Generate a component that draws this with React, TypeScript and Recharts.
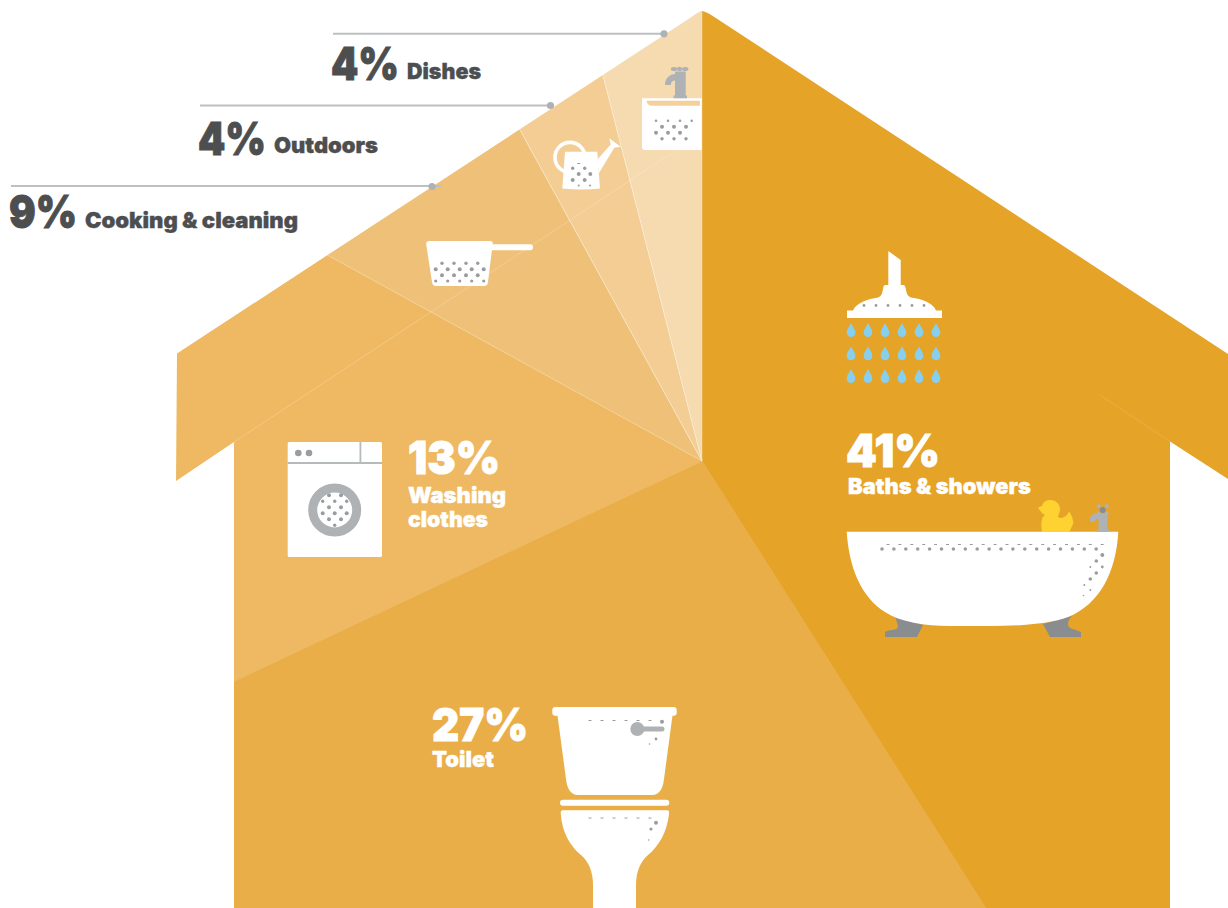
import React from "react";
import { PieChart, Pie, Cell } from "recharts";

// Share of household water use, by activity (percent)
const categories = ["Baths & showers", "Toilet", "Washing clothes", "Other", "Cooking & cleaning", "Outdoors", "Dishes"];
const values = [41, 27, 13, 2, 9, 4, 4];
const sliceColours = ["#E5A328", "#E9AE48", "#EEB962", "#EEB962", "#EFC077", "#F3CD93", "#F6DAB0"];
const sliceStrokes = ["#E5A328", "#E9AE48", "#EEB962", "#EEB962", "rgba(255,255,255,0.3)", "rgba(255,255,255,0.3)", "rgba(255,255,255,0.3)"];

const pieData = categories.map((name, i) => ({ name, value: values[i] }));

const WHITE = "#FFFFFF";
const DARK = "#4D4E50";
const GREY = "#AEB2B4";
const DOT = "#9A9DA0";
const FONT = "Inter, 'Noto Sans', sans-serif";

const HOUSE =
  "M690,18 Q698,12 702,11 Q706,11.5 712,15.5 L1228,354 V479 L1170,441.5 V908 H234 V442 L176,481 L177,353.5 Z";

// Bold label; the thin outline brings Inter Black up to the weight of the design
function Num({ x, y, w, fill, size = 46, children }: any) {
  return (
    <text
      x={x}
      y={y}
      fill={fill}
      stroke={fill}
      strokeWidth={size > 30 ? 1 : 0.35}
      fontFamily={FONT}
      fontWeight={900}
      fontSize={size}
      textLength={w}
      lengthAdjust="spacingAndGlyphs"
    >
      {children}
    </text>
  );
}

function Dots({ xs, y, r = 2 }: { xs: number[]; y: number; r?: number }) {
  return (
    <>
      {xs.map((x, i) => (
        <circle key={i} cx={x} cy={y} r={r} fill={DOT} />
      ))}
    </>
  );
}

function Dashes({ xs, y, w = 3 }: { xs: number[]; y: number; w?: number }) {
  return (
    <>
      {xs.map((x, i) => (
        <rect key={i} x={x - w / 2} y={y} width={w} height={1} fill={DOT} />
      ))}
    </>
  );
}

function Drop({ x, y }: { x: number; y: number }) {
  return (
    <path
      d={`M${x},${y - 7} C${x + 1.5},${y - 3.5} ${x + 4.3},${y - 1} ${x + 4.3},${y + 2.7} A4.3,4.3 0 0 1 ${x - 4.3},${y + 2.7} C${x - 4.3},${y - 1} ${x - 1.5},${y - 3.5} ${x},${y - 7} Z`}
      fill="#87CFEF"
    />
  );
}

function Shower() {
  const xs = [851, 868, 885, 902, 919, 936];
  return (
    <g>
      <path d="M888.3,251 L900.7,260 V286 H888.3 Z" fill={WHITE} />
      <path
        d="M847,318 H942 V310.5 H936 C933,303 922,299 911,297.5 C905,296 907,287 904,285 H884.5 C882,287 884,296 878,297.5 C868,299 856,303 853,310.5 H847 Z"
        fill={WHITE}
      />
      <Dots xs={[864, 876, 888, 900, 912, 924]} y={305.5} r={1.4} />
      {[330, 353.3, 376].map((y) => xs.map((x) => <Drop key={`${x}-${y}`} x={x} y={y} />))}
    </g>
  );
}

function Bathtub() {
  const rowXs = Array.from({ length: 19 }, (_, i) => 882 + i * 11.9);
  return (
    <g>
      <path d="M895,616 L923,625 L917,637 H885 V632 C890,629 898,631 898,626 Z" fill="#8A8D8F" />
      <path d="M1072,616 C1066,622 1067,628 1073,629 L1081,632 V637 H1050 L1043,624 Z" fill="#8A8D8F" />
      <path
        d="M846.7,531.7 H1118.3 C1116,572 1100,604 1068,617 C1050,624 1020,626 990,626 H950 C925,626 900,622 885,612 C860,596 849,566 846.7,531.7 Z"
        fill={WHITE}
      />
      <path
        d="M1042,532 C1041,526 1041,520 1043,517 L1045,515 C1042,514 1040,511 1038,507.5 C1040,507 1041,506 1042,506 C1043,502 1046,500 1050.5,500 C1056,500 1060,504 1060,509 C1060,513 1058,515 1058,517 C1061,519 1066,518 1069,511.5 C1072,515 1075,523 1072,526 C1071,529 1070,531 1069,532 Z"
        fill="#FDD231"
      />
      <path d="M1090,522 C1089,516 1093,513 1098,513 L1107.5,514 V529.5 H1109 V532 H1097 V529.5 H1098.5 V519 C1095,518.5 1095,520 1095,522 Z" fill={GREY} />
      {[[1098.7, 506.3], [1106.7, 506.3], [1098.7, 513.3], [1106.7, 513.3]].map(([x, y]) => (
        <circle key={`${x}-${y}`} cx={x} cy={y} r={2} fill={GREY} />
      ))}
      <circle cx={1102.7} cy={510} r={3} fill="#8A8D8F" />
      <Dots xs={rowXs} y={549} r={1.8} />
      <Dashes xs={rowXs.map((x) => x + 6)} y={544} />
      <Dots xs={[1102.3]} y={555} />
      <Dots xs={[1096.3]} y={561} r={1.8} />
      <Dots xs={[1102.3]} y={567} r={1.4} />
      <Dots xs={[1090.3]} y={567} r={1} />
      <Dots xs={[1096.3]} y={573} r={1.8} />
      <Dots xs={[1090.3]} y={579} r={1.8} />
      <Dots xs={[1084.3]} y={585} r={1} />
      <Dots xs={[1090.3]} y={590} r={1} />
      <Dots xs={[1083.5]} y={595.5} r={0.8} />
    </g>
  );
}

function ToiletIcon() {
  const xs = [590, 602, 614, 626, 638, 650];
  return (
    <g>
      <rect x={552.3} y={707} width={124.4} height={8.7} rx={3} fill={WHITE} />
      <path d="M557.3,714 H672.7 L664,779 C663,789 659,795 652,795 H578 C571,795 567,789 566,779 Z" fill={WHITE} />
      <rect x={560} y={799.7} width={109.3} height={6} rx={3} fill={WHITE} />
      <path
        d="M563,810.3 H667 C669,810.3 669.3,812 669,814 C667,832 659,846 648,855 C640,862 636,872 636,885 V908 H593 V885 C593,872 589,862 581,855 C570,846 562,832 560.8,814 C560.5,812 561,810.3 563,810.3 Z"
        fill={WHITE}
      />
      <Dashes xs={xs} y={720} />
      <Dots xs={[662]} y={721.7} />
      <circle cx={637.3} cy={729} r={7} fill={GREY} />
      <rect x={637} y={726.5} width={27.5} height={5} rx={2.5} fill={GREY} />
      <Dots xs={[656]} y={739} r={1.4} />
      <Dots xs={[649.5]} y={744} r={0.8} />
      <Dashes xs={xs} y={817.5} />
      <Dots xs={[656]} y={822.7} />
      <Dots xs={[651]} y={829} r={1.6} />
      <Dots xs={[648.7]} y={840} r={0.8} />
    </g>
  );
}

function Washer() {
  return (
    <g>
      <rect x={287.7} y={442} width={94.3} height={115} rx={1.5} fill={WHITE} />
      <rect x={287.7} y={462} width={94.3} height={2} fill="#B5BABB" />
      <rect x={359.5} y={442} width={1.8} height={20} fill="#B5BABB" />
      <Dots xs={[298.3, 309]} y={453} r={3.3} />
      <circle cx={334.7} cy={510} r={22} fill={WHITE} stroke={GREY} strokeWidth={9} />
      <Dots xs={[329, 341]} y={495.3} />
      <Dots xs={[322.7, 334.7, 346.7]} y={501.3} r={1.7} />
      <Dots xs={[329, 341]} y={507.3} />
      <Dots xs={[322.7, 334.7, 346.7]} y={513.3} />
      <Dots xs={[329, 341]} y={519.3} />
      <Dots xs={[334.7]} y={525.3} r={1.7} />
    </g>
  );
}

function Strainer() {
  return (
    <g>
      <path
        d="M429,241 H490 C492,241 493,242 492.7,244 L488,282 C487.6,285 486,286 484,286 H436 C434,286 432.5,285 432,282 L426.3,245 C426,242 427,241 429,241 Z"
        fill={WHITE}
      />
      <rect x={490} y={244.3} width={43} height={6} rx={3} fill={WHITE} />
      <Dots xs={[442, 454, 466, 477.7]} y={263.3} r={1.7} />
      <Dots xs={[435.7, 447.7, 459.7, 471.7, 483.7]} y={269.3} />
      <Dots xs={[442, 454, 466, 477.7]} y={275.3} />
      <Dots xs={[435.7, 447.7, 459.7, 471.7, 483.7]} y={281} r={1.6} />
    </g>
  );
}

function WateringCan() {
  return (
    <g>
      <circle cx={570} cy={157.4} r={15} fill="none" stroke={WHITE} strokeWidth={3.6} />
      <path d="M565,151.7 L597.3,151.7 L600,188.5 Q581,190.5 562.3,188.5 Z" fill={WHITE} />
      <path d="M597,160 L610.7,144.5 L609.3,138.3 L620.7,146.7 L614.3,147.7 L599,173 Z" fill={WHITE} />
      <Dots xs={[572.7, 584.7]} y={168.3} r={1.7} />
      <Dots xs={[578.7, 590.3]} y={174} />
      <Dots xs={[572.7, 584.7]} y={180} />
      <Dots xs={[578.7, 590]} y={185.5} r={1} />
      <Dashes xs={[578.7]} y={163} />
    </g>
  );
}

function Sink() {
  return (
    <g>
      <path d="M642,98.3 H701.7 V150 H645 C643,150 642,149 642,147 Z" fill={WHITE} />
      <path d="M646.5,100.8 H700 V105.8 H651 C648.5,105.8 647,103.5 646.5,100.8 Z" fill="#F4D09A" />
      <path
        d="M665,85 C665,78 670,74 675,74 V71.5 H685.7 V95.5 H687 V98.3 H673.5 V95.5 H675 V80.5 C672.5,80.5 670.8,82 670.8,85 Z"
        fill={GREY}
      />
      <ellipse cx={674} cy={69} rx={3.2} ry={2} fill={GREY} />
      <ellipse cx={679.5} cy={69} rx={2.6} ry={2.2} fill={GREY} />
      <ellipse cx={685.2} cy={69} rx={3.2} ry={2} fill={GREY} />
      <Dots xs={[656, 668, 680, 691.7]} y={120.7} r={1.3} />
      <Dots xs={[662, 674, 686]} y={126.7} />
      <Dots xs={[656, 668, 680]} y={132.7} />
      <Dots xs={[662, 674, 686]} y={138.7} r={1.7} />
    </g>
  );
}

export default function App() {
  return (
    <div style={{ position: "absolute", left: 0, top: 0, width: 1228, height: 908 }}>
      <style>{`.recharts-pie { clip-path: url(#house-shape); }`}</style>
      <PieChart width={1228} height={908} margin={{ top: 0, right: 0, bottom: 0, left: 0 }}>
        <defs>
          <clipPath id="house-shape" clipPathUnits="userSpaceOnUse">
            <path d={HOUSE} />
          </clipPath>
        </defs>
        <Pie
          data={pieData}
          dataKey="value"
          nameKey="name"
          cx={702}
          cy={461}
          innerRadius={0}
          outerRadius={720}
          startAngle={90}
          endAngle={-270}
          paddingAngle={0}
          isAnimationActive={false}
          legendType="none"
        >
          {pieData.map((d, i) => (
            <Cell key={d.name} fill={sliceColours[i]} stroke={sliceStrokes[i]} strokeWidth={1} />
          ))}
        </Pie>
      </PieChart>

      {/* Annotation layer above the slices: fold lines, leaders, icons, labels */}
      <svg width={1228} height={908} style={{ position: "absolute", left: 0, top: 0 }}>
        <line x1={234} y1={442} x2={702} y2={133} stroke="#fff" strokeOpacity={0.28} strokeWidth={0.8} />
        <line x1={1100} y1={395} x2={1170} y2={441.5} stroke="#fff" strokeOpacity={0.18} strokeWidth={0.8} />

        <line x1={333} y1={33.8} x2={664} y2={33.8} stroke="#BDBFC1" strokeWidth={2} />
        <line x1={200} y1={105.5} x2={550} y2={105.5} stroke="#BDBFC1" strokeWidth={2} />
        <line x1={11} y1={186} x2={441} y2={186} stroke="#BDBFC1" strokeWidth={2} />
        <circle cx={664} cy={33.8} r={3.6} fill={GREY} />
        <circle cx={550.5} cy={105.5} r={3.6} fill={GREY} />
        <circle cx={432} cy={186.5} r={3.6} fill={GREY} />

        <Shower />
        <Bathtub />
        <ToiletIcon />
        <Washer />
        <Strainer />
        <WateringCan />
        <Sink />

        <Num x={331} y={79.5} w={68} fill={DARK}>{`${values[6]}%`}</Num>
        <Num x={407} y={78.5} w={74} fill={DARK} size={22}>{categories[6]}</Num>
        <Num x={198} y={155} w={68} fill={DARK}>{`${values[5]}%`}</Num>
        <Num x={274} y={153} w={104} fill={DARK} size={22}>{categories[5]}</Num>
        <Num x={9} y={227.5} w={68} fill={DARK}>{`${values[4]}%`}</Num>
        <Num x={85} y={227.5} w={213} fill={DARK} size={22}>{categories[4]}</Num>

        <Num x={846} y={467} w={94} fill={WHITE}>{`${values[0]}%`}</Num>
        <Num x={848} y={494} w={183} fill={WHITE} size={22}>{categories[0]}</Num>
        <Num x={408} y={474} w={92} fill={WHITE}>{`${values[2]}%`}</Num>
        <Num x={408} y={503} w={98} fill={WHITE} size={22}>{categories[2].split(" ")[0]}</Num>
        <Num x={408} y={526.5} w={80} fill={WHITE} size={22}>{categories[2].split(" ")[1]}</Num>
        <Num x={432} y={741} w={96} fill={WHITE}>{`${values[1]}%`}</Num>
        <Num x={432} y={767} w={62} fill={WHITE} size={22}>{categories[1]}</Num>
      </svg>
    </div>
  );
}
